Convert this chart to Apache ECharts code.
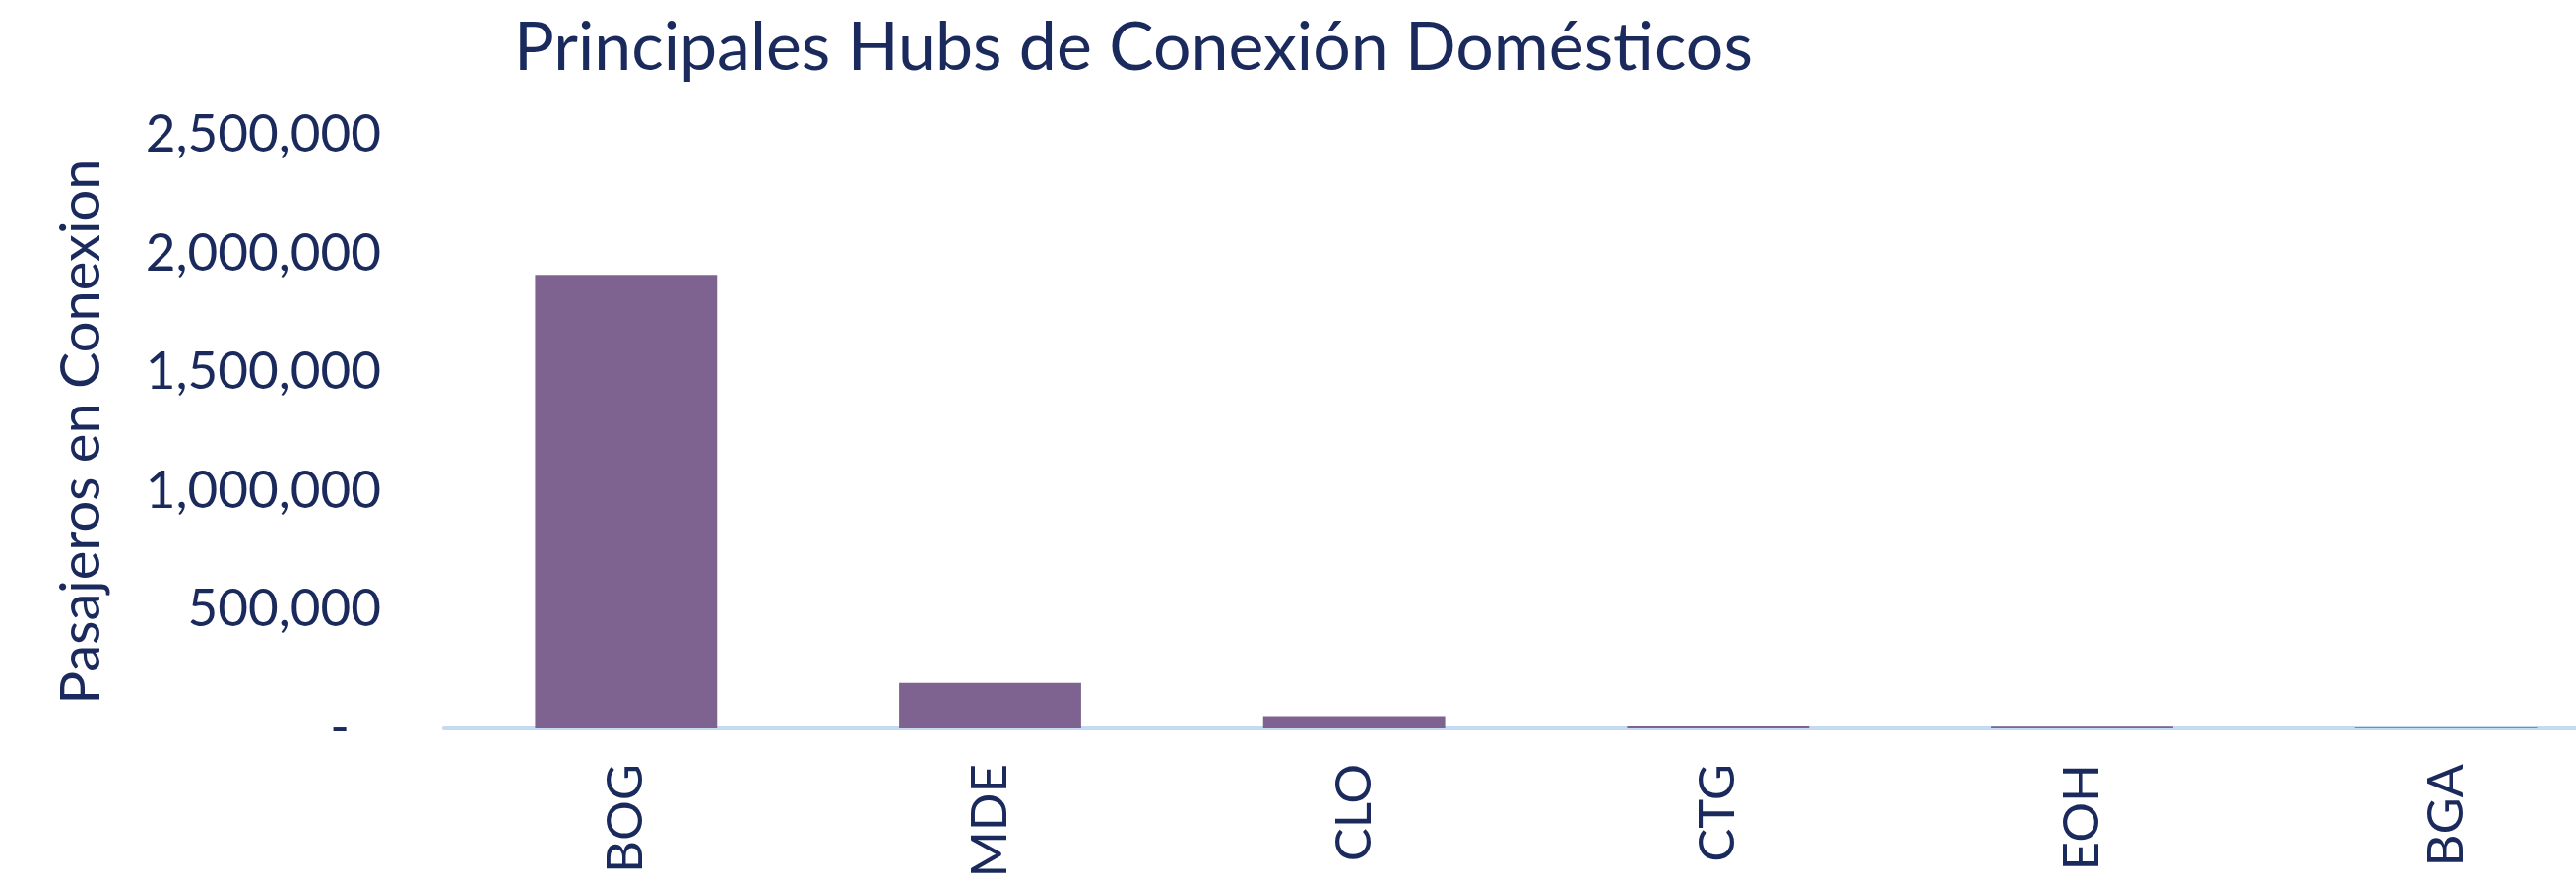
<!DOCTYPE html>
<html>
<head>
<meta charset="utf-8">
<script src="https://cdn.jsdelivr.net/npm/echarts@6/dist/echarts.min.js"></script>
<style>
html,body{margin:0;padding:0;background:#fff;}
#chart{width:2616px;height:895px;}
</style>
</head>
<body>
<div id="chart"></div>
<script>
const titleText = 'Principales Hubs de Conexión Domésticos';
const yAxisName = 'Pasajeros en Conexion';
const categories = ['BOG', 'MDE', 'CLO', 'CTG', 'EOH', 'BGA'];
const passengers = [1910000, 192000, 52000, 8000, 7500, 3000];
const yMax = 2500000;
const yInterval = 500000;

const navy = '#1B2A5C';
const chart = echarts.init(document.getElementById('chart'), null, {renderer: 'canvas'});
chart.setOption({
  backgroundColor: '#ffffff',
  animation: false,
  title: {
    text: titleText,
    left: 517,
    top: 10,
    textStyle: {fontFamily: 'Lato', fontWeight: 'normal', fontSize: 68, color: navy}
  },
  grid: {left: 451, top: 137, width: 2218, bottom: 155, containLabel: false, outerBoundsMode: 'none'},
  xAxis: {
    type: 'category',
    data: categories,
    axisLine: {show: true, lineStyle: {color: '#C3DAF0', width: 4}},
    axisTick: {show: false},
    axisLabel: {
      rotate: 90,
      margin: 36,
      fontFamily: 'Lato',
      fontSize: 51,
      color: navy
    }
  },
  yAxis: {
    type: 'value',
    min: 0,
    max: yMax,
    interval: yInterval,
    name: yAxisName,
    nameLocation: 'middle',
    nameGap: 340,
    nameTextStyle: {fontFamily: 'Lato', fontSize: 56, color: navy},
    axisLine: {show: false},
    axisTick: {show: false},
    splitLine: {show: false},
    axisLabel: {
      margin: 64,
      fontFamily: 'Lato',
      fontSize: 53,
      color: navy,
      formatter: function (v) {
        if (v === 0) return '{dash|-}';
        return v.toLocaleString('en-US');
      },
      rich: {dash: {fontFamily: 'Lato', fontSize: 53, color: navy, padding: [0, 32, 0, 0]}}
    }
  },
  series: [{
    type: 'bar',
    data: passengers,
    barWidth: '50%',
    itemStyle: {color: '#7E6390'}
  }]
});
</script>
</body>
</html>
